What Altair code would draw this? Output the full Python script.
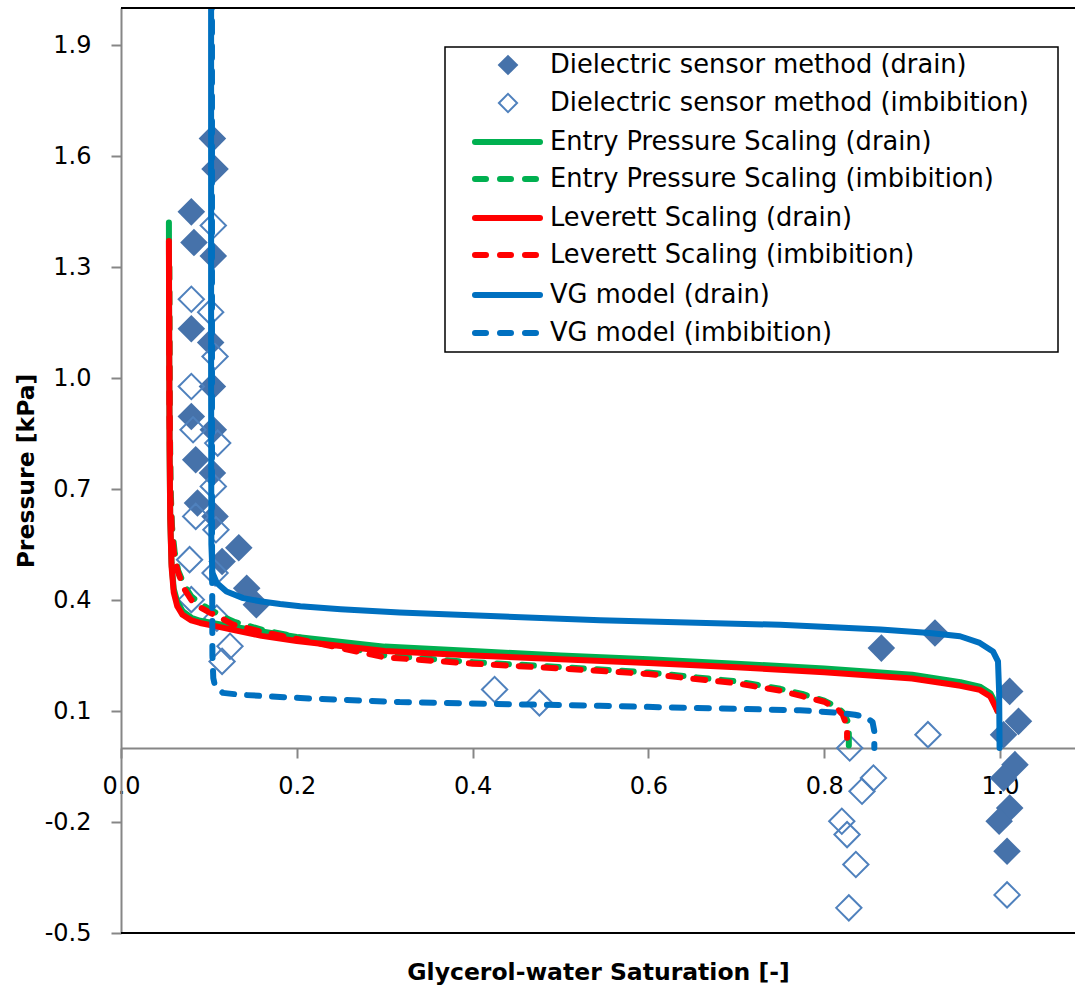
import altair as alt
import pandas as pd

# ---------------- data ----------------
# Dielectric sensor method (drain) - filled diamonds
drain_x = [0.104, 0.107, 0.080, 0.083, 0.105, 0.080, 0.102, 0.104, 0.080, 0.105, 0.085, 0.104,
           0.087, 0.107, 0.115, 0.134, 0.143, 0.154, 0.865, 0.926, 1.011, 1.021, 1.004, 1.017,
           1.004, 1.011, 0.999, 1.008]
drain_y = [1.647, 1.565, 1.449, 1.366, 1.330, 1.133, 1.096, 0.977, 0.896, 0.860, 0.779, 0.743,
           0.662, 0.626, 0.504, 0.541, 0.432, 0.387, 0.270, 0.311, 0.153, 0.072, 0.036, -0.045,
           -0.081, -0.162, -0.198, -0.279]

# Dielectric sensor method (imbibition) - open diamonds
imb_x = [0.105, 0.080, 0.102, 0.107, 0.080, 0.082, 0.110, 0.105, 0.085, 0.108, 0.078, 0.107,
         0.080, 0.109, 0.124, 0.115, 0.425, 0.476, 0.829, 0.856, 0.843, 0.820, 0.826, 0.836,
         0.828, 0.918, 1.008]
imb_y = [1.412, 1.213, 1.178, 1.058, 0.977, 0.860, 0.824, 0.707, 0.626, 0.590, 0.509, 0.473,
         0.401, 0.351, 0.275, 0.234, 0.158, 0.122, 0.000, -0.081, -0.117, -0.198, -0.234, -0.315,
         -0.432, 0.036, -0.397]

# Entry Pressure Scaling (drain)
eps_d_x = [0.0545, 0.0548, 0.0553, 0.0560, 0.0575, 0.060, 0.064, 0.070, 0.080, 0.090, 0.110, 0.130,
           0.160, 0.200, 0.300, 0.400, 0.500, 0.600, 0.700, 0.800, 0.900, 0.955, 0.977, 0.989,
           0.994, 0.997]
eps_d_y = [1.42, 1.10, 0.80, 0.62, 0.50, 0.43, 0.395, 0.370, 0.352, 0.344, 0.335, 0.327,
           0.315, 0.300, 0.274, 0.262, 0.250, 0.240, 0.228, 0.215, 0.198, 0.178, 0.166, 0.148,
           0.125, 0.100]

# Leverett Scaling (drain)
lev_d_x = eps_d_x
lev_d_y = [1.37, 1.10, 0.80, 0.62, 0.49, 0.42, 0.383, 0.360, 0.345, 0.338, 0.328, 0.318,
           0.303, 0.289, 0.262, 0.250, 0.240, 0.230, 0.218, 0.205, 0.188, 0.168, 0.157, 0.139,
           0.115, 0.100]

# Entry Pressure Scaling (imbibition)
eps_i_x = [0.0550, 0.0555, 0.0565, 0.058, 0.061, 0.065, 0.072, 0.080, 0.090, 0.101, 0.115, 0.130,
           0.160, 0.200, 0.300, 0.400, 0.500, 0.600, 0.700, 0.750, 0.775, 0.800, 0.815, 0.823,
           0.827, 0.828, 0.828]
eps_i_y = [1.30, 0.90, 0.70, 0.60, 0.53, 0.48, 0.44, 0.41, 0.39, 0.375, 0.356, 0.340,
           0.320, 0.300, 0.250, 0.232, 0.219, 0.204, 0.180, 0.160, 0.146, 0.128, 0.110, 0.092,
           0.070, 0.040, 0.003]

# Leverett Scaling (imbibition)
lev_i_x = [0.0548, 0.0553, 0.0563, 0.058, 0.061, 0.065, 0.072, 0.080, 0.090, 0.101, 0.115, 0.127,
           0.158, 0.200, 0.300, 0.400, 0.500, 0.600, 0.700, 0.750, 0.775, 0.800, 0.815, 0.821,
           0.825, 0.826, 0.826]
lev_i_y = [1.30, 0.90, 0.68, 0.58, 0.51, 0.474, 0.43, 0.40, 0.38, 0.366, 0.350, 0.334,
           0.315, 0.295, 0.245, 0.228, 0.215, 0.200, 0.175, 0.155, 0.140, 0.125, 0.105, 0.090,
           0.065, 0.045, 0.028]

# VG model (drain)
vg_d_x = [0.1025, 0.1025, 0.1028, 0.104, 0.109, 0.120, 0.139, 0.160, 0.181, 0.204, 0.250, 0.317,
          0.545, 0.750, 0.864, 0.920, 0.9545, 0.977, 0.992, 0.9977, 0.999, 0.9995]
vg_d_y = [2.10, 1.00, 0.55, 0.474, 0.446, 0.423, 0.405, 0.396, 0.389, 0.383, 0.375, 0.366,
          0.345, 0.333, 0.320, 0.311, 0.302, 0.284, 0.261, 0.234, 0.150, 0.000]

# VG model (imbibition)
vg_i_x = [0.1035, 0.1035, 0.1040, 0.105, 0.107, 0.116, 0.135, 0.204, 0.317, 0.545, 0.7725, 0.818,
          0.835, 0.848, 0.855, 0.857, 0.857]
vg_i_y = [2.10, 0.60, 0.25, 0.189, 0.167, 0.149, 0.144, 0.135, 0.124, 0.114, 0.102, 0.095,
          0.090, 0.083, 0.070, 0.045, 0.000]

x_ticks = [0.0, 0.2, 0.4, 0.6, 0.8, 1.0]
y_ticks = [-0.5, -0.2, 0.1, 0.4, 0.7, 1.0, 1.3, 1.6, 1.9]

legend_labels = [
    "Dielectric sensor method (drain)",
    "Dielectric sensor method (imbibition)",
    "Entry Pressure Scaling (drain)",
    "Entry Pressure Scaling (imbibition)",
    "Leverett Scaling (drain)",
    "Leverett Scaling (imbibition)",
    "VG model (drain)",
    "VG model (imbibition)",
]

# ---------------- styling ----------------
FONT = "DejaVu Sans"
GREEN = "#00B050"
RED = "#FF0000"
BLUE = "#0070C0"
DIA_FILL = "#4672AA"
DIA_OPEN = "#4F81BD"
AXIS_GREY = "#868686"
DASH = [12, 13]
LW = 6

W, H = 954, 925
XMAX = 1.0853
xscale = alt.Scale(domain=[0, XMAX], nice=False, zero=False)
yscale = alt.Scale(domain=[-0.5, 2.0], nice=False, zero=False)

LABEL_EXPR = "replace(format(datum.value, '.1f'), '\u2212', '-')"

x_axis = alt.Axis(values=x_ticks, labelExpr=LABEL_EXPR, offset=-185, grid=False,
                  domainColor=AXIS_GREY, domainWidth=2, tickColor=AXIS_GREY, tickWidth=2,
                  tickSize=10, labelFont=FONT, labelFontSize=24, labelColor="black",
                  labelPadding=16, labelOverlap=False, labelFlush=False,
                  title="Glycerol-water Saturation [-]", titleFont=FONT, titleFontSize=23.5,
                  titleFontWeight="bold", titleColor="black", titleBaseline="alphabetic",
                  titleY=231)
y_axis = alt.Axis(values=y_ticks, labelExpr=LABEL_EXPR, grid=False,
                  domainColor=AXIS_GREY, domainWidth=2, tickColor=AXIS_GREY, tickWidth=2,
                  tickSize=10, labelFont=FONT, labelFontSize=24, labelColor="black",
                  labelPadding=20, labelOverlap=False, labelFlush=False,
                  title="Pressure [kPa]", titleFont=FONT, titleFontSize=23.5,
                  titleFontWeight="bold", titleColor="black", titleBaseline="alphabetic",
                  titleAngle=270, titleX=-88)

X = alt.X("x:Q", scale=xscale, axis=x_axis)
Y = alt.Y("y:Q", scale=yscale, axis=y_axis)


def line_layer(xs, ys, color, dash=None):
    df = pd.DataFrame({"x": xs, "y": ys, "i": list(range(len(xs)))})
    kw = dict(color=color, strokeWidth=LW, strokeCap="round", strokeJoin="round", clip=True)
    if dash:
        kw["strokeDash"] = dash
    return alt.Chart(df).mark_line(**kw).encode(x=X, y=Y, order="i:Q")


pts_drain = alt.Chart(pd.DataFrame({"x": drain_x, "y": drain_y})).mark_point(
    shape="diamond", filled=True, size=760, color=DIA_FILL, opacity=1, strokeWidth=0
).encode(x=X, y=Y)
pts_imb = alt.Chart(pd.DataFrame({"x": imb_x, "y": imb_y})).mark_point(
    shape="diamond", filled=False, size=640, color=DIA_OPEN, opacity=1, strokeWidth=2
).encode(x=X, y=Y)

layers = [
    pts_drain,
    pts_imb,
    line_layer(eps_d_x, eps_d_y, GREEN),
    line_layer(eps_i_x, eps_i_y, GREEN, DASH),
    line_layer(lev_d_x, lev_d_y, RED),
    line_layer(lev_i_x, lev_i_y, RED, DASH),
    line_layer(vg_d_x, vg_d_y, BLUE),
    line_layer(vg_i_x, vg_i_y, BLUE, DASH),
]

one = pd.DataFrame({"a": [0]})
# plot frame: black top and bottom borders
layers.append(alt.Chart(one).mark_rule(color="black", strokeWidth=2).encode(
    x=alt.value(0), x2=alt.value(W), y=alt.value(0)))
layers.append(alt.Chart(one).mark_rule(color="black", strokeWidth=2).encode(
    x=alt.value(0), x2=alt.value(W), y=alt.value(H)))

# legend (drawn as marks, positions in pixels relative to the plot area)
LX0, LX1, LY0, LY1 = 324, 937, 39, 344
layers.append(alt.Chart(one).mark_rect(fill="white", stroke="black", strokeWidth=1.5).encode(
    x=alt.value(LX0), x2=alt.value(LX1), y=alt.value(LY0), y2=alt.value(LY1)))

row_y = [57, 95, 134, 171, 210, 247, 287, 325]
styles = [
    ("fill", DIA_FILL, None),
    ("open", DIA_OPEN, None),
    ("line", GREEN, None),
    ("line", GREEN, DASH),
    ("line", RED, None),
    ("line", RED, DASH),
    ("line", BLUE, None),
    ("line", BLUE, DASH),
]
for (kind, col, dash), ry, lab in zip(styles, row_y, legend_labels):
    if kind == "fill":
        layers.append(alt.Chart(one).mark_point(shape="diamond", filled=True, size=430, color=col,
                                                opacity=1, strokeWidth=0).encode(
            x=alt.value(387), y=alt.value(ry)))
    elif kind == "open":
        layers.append(alt.Chart(one).mark_point(shape="diamond", filled=False, size=330, color=col,
                                                opacity=1, strokeWidth=2).encode(
            x=alt.value(387), y=alt.value(ry)))
    else:
        kw = dict(color=col, strokeWidth=LW, strokeCap="round")
        if dash:
            kw["strokeDash"] = [11, 14]
        layers.append(alt.Chart(one).mark_rule(**kw).encode(
            x=alt.value(354), x2=alt.value(419 if not dash else 415), y=alt.value(ry)))
    layers.append(alt.Chart(one).mark_text(text=lab, align="left", baseline="middle", font=FONT,
                                           fontSize=25.7, color="black").encode(
        x=alt.value(429), y=alt.value(ry)))

chart = alt.layer(*layers).properties(
    width=W, height=H,
    padding={"left": 121, "top": 8, "right": 0, "bottom": 53},
    autosize=alt.AutoSizeParams(type="none"),
    background="white",
).configure_view(stroke=None)

chart.save("out.html", embed_options={"renderer": "svg", "actions": False})
